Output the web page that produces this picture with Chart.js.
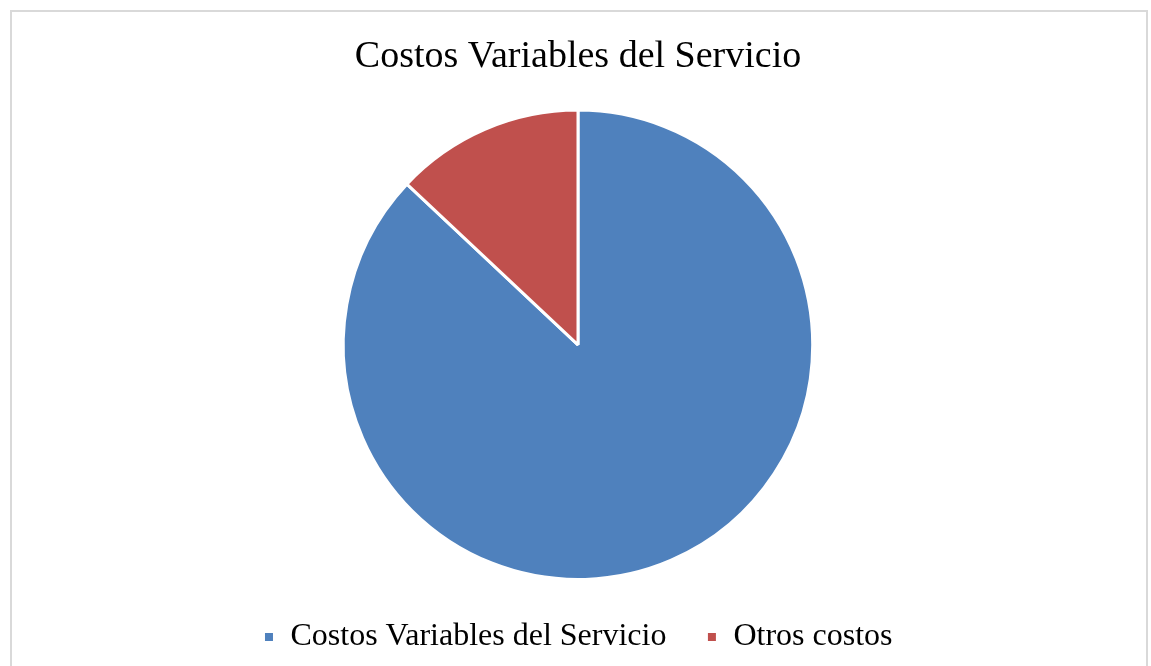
<!DOCTYPE html>
<html>
<head>
<meta charset="utf-8">
<script src="https://cdn.jsdelivr.net/npm/chart.js@4.4.0/dist/chart.umd.min.js"></script>
<style>
  html, body { margin: 0; padding: 0; background: #fff; overflow: hidden; }
  #marco {
    position: absolute; left: 10px; top: 10px;
    width: 1134px; height: 700px;
    border: 2px solid #d9d9d9;
  }
  #grafico { position: absolute; left: 0; top: 0; }
</style>
</head>
<body>
<div id="marco"></div>
<canvas id="grafico" width="1151" height="666"></canvas>
<script>
  // Datos del gráfico
  const categorias = ['Costos Variables del Servicio', 'Otros costos'];
  const valores = [87, 13];
  const colores = ['#4F81BD', '#C0504D'];

  const ctx = document.getElementById('grafico');

  new Chart(ctx, {
    type: 'pie',
    data: {
      labels: categorias,
      datasets: [{
        data: valores,
        backgroundColor: colores,
        borderColor: '#ffffff',
        borderWidth: 3
      }]
    },
    options: {
      responsive: false,
      animation: false,
      layout: {
        padding: { top: 0, bottom: 3, left: 5 }
      },
      plugins: {
        title: {
          display: true,
          text: 'Costos Variables del Servicio',
          color: '#000',
          font: { family: '"Liberation Serif", "Times New Roman", serif', size: 38, weight: 'normal' },
          padding: { top: 34, bottom: 29 }
        },
        legend: {
          position: 'bottom',
          labels: {
            color: '#000',
            boxWidth: 11,
            boxHeight: 11,
            padding: 40,
            font: { family: '"Liberation Serif", "Times New Roman", serif', size: 32 }
          }
        },
        tooltip: { enabled: false }
      }
    }
  });
</script>
</body>
</html>
